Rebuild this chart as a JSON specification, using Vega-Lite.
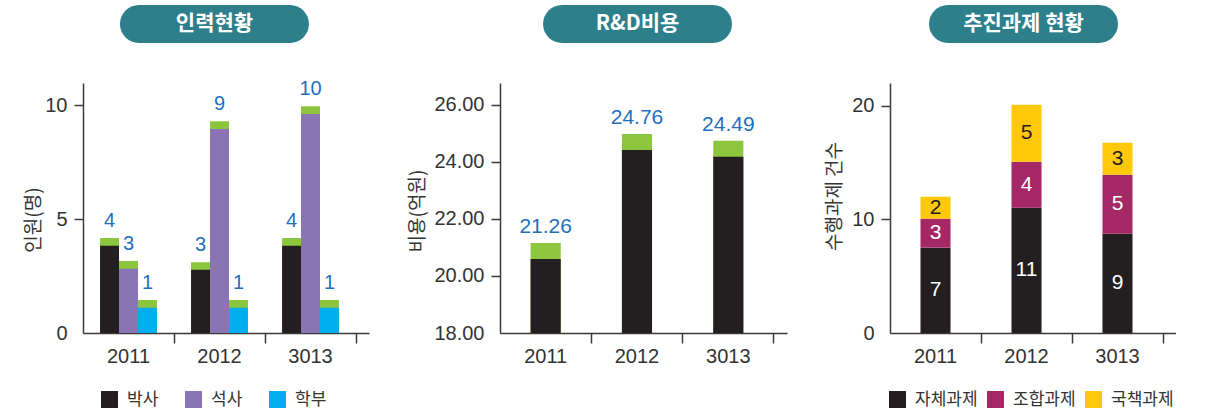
{
  "$schema": "https://vega.github.io/schema/vega-lite/v6.json",
  "background": "white",
  "padding": {"left": 24, "top": 5, "right": 0, "bottom": 0},
  "autosize": {"type": "pad"},
  "config": {
    "view": {"stroke": null},
    "font": "Noto Sans CJK KR",
    "axis": {
      "domainColor": "#3a3a3a", "domainWidth": 1.5,
      "tickColor": "#3a3a3a", "tickWidth": 1.5,
      "labelFont": "Liberation Sans",
      "labelColor": "#333333", "grid": false,
      "titleFont": "Noto Sans CJK KR", "titleFontWeight": "normal", "titleColor": "#333333", "titleFontSize": 19
    },
    "axisX": {"labelFontSize": 20, "tickSize": 10, "labelPadding": 3, "labelAngle": 0},
    "axisY": {"labelFontSize": 20, "tickSize": 9, "labelPadding": 7, "titleAngle": -90, "titleBaseline": "middle", "titleAlign": "center"},
    "legend": {"symbolType": "square", "symbolSize": 289, "symbolStrokeWidth": 0, "labelFontSize": 17, "labelFont": "Noto Sans CJK KR", "labelColor": "#333333", "labelOffset": 9, "padding": 0, "title": null}
  },
  "resolve": {"scale": {"color": "independent"}, "legend": {"color": "independent"}},
  "spacing": 38,
  "hconcat": [
    {
      "bounds": "flush", "spacing": 40,
      "vconcat": [
        {
          "width": 286, "height": 38,
          "data": {"values": [{"t": "인력현황"}]},
          "encoding": {"x": {"field": "t", "type": "nominal", "axis": null, "scale": {"paddingInner": 0, "paddingOuter": 0.2566, "align": 0.381}}},
          "layer": [
            {"mark": {"type": "rect", "color": "#2e7f8c", "cornerRadius": 19}},
            {"mark": {"type": "text", "color": "white", "fontSize": 21, "fontWeight": "bold", "font": "Noto Sans CJK KR", "baseline": "middle"},
             "encoding": {"text": {"field": "t"}}}
          ]
        },
        {
          "width": 286, "height": 250,
          "data": {"values": [
            {"year": "2011", "type": "박사", "v": 3.83, "top": 4.17, "label": "4"},
            {"year": "2011", "type": "석사", "v": 2.82, "top": 3.16, "label": "3"},
            {"year": "2011", "type": "학부", "v": 1.11, "top": 1.45, "label": "1"},
            {"year": "2012", "type": "박사", "v": 2.78, "top": 3.11, "label": "3"},
            {"year": "2012", "type": "석사", "v": 8.96, "top": 9.30, "label": "9"},
            {"year": "2012", "type": "학부", "v": 1.11, "top": 1.45, "label": "1"},
            {"year": "3013", "type": "박사", "v": 3.83, "top": 4.17, "label": "4"},
            {"year": "3013", "type": "석사", "v": 9.62, "top": 9.96, "label": "10"},
            {"year": "3013", "type": "학부", "v": 1.11, "top": 1.45, "label": "1"}
          ]},
          "encoding": {
            "x": {"field": "year", "type": "nominal", "sort": null, "title": null,
                  "scale": {"paddingInner": 0, "paddingOuter": 0.0714, "align": 0},
                  "axis": {"bandPosition": 1}},
            "xOffset": {"field": "type", "type": "nominal", "sort": ["박사", "석사", "학부"], "scale": {"paddingInner": 0, "paddingOuter": 0.9}}
          },
          "layer": [
            {
              "mark": {"type": "bar", "color": "#8cc63f"},
              "encoding": {"y": {"field": "top", "type": "quantitative", "stack": null, "title": "인원(명)",
                "scale": {"domain": [0, 10.98], "nice": false, "zero": true},
                "axis": {"values": [0, 5, 10], "titleX": -50, "titleY": 136.5,
                  "tickOpacity": {"condition": {"test": "datum.value === 0", "value": 0}, "value": 1}}}}
            },
            {
              "mark": {"type": "bar"},
              "encoding": {
                "y": {"field": "v", "type": "quantitative", "stack": null, "title": "인원(명)"},
                "color": {"field": "type", "type": "nominal",
                  "scale": {"domain": ["박사", "석사", "학부"], "range": ["#231f20", "#8b74b3", "#00aeef"]},
                  "legend": {"orient": "none", "legendX": 18, "legendY": 386, "direction": "horizontal", "columns": 3, "columnPadding": 26}}
              }
            },
            {
              "mark": {"type": "text", "color": "#1f6fbd", "fontSize": 20, "baseline": "alphabetic", "dy": -11, "font": "Liberation Sans"},
              "encoding": {
                "y": {"field": "top", "type": "quantitative", "stack": null, "title": "인원(명)"},
                "text": {"field": "label"}
              }
            }
          ]
        }
      ]
    },
    {
      "bounds": "flush", "spacing": 40,
      "vconcat": [
        {
          "width": 287, "height": 38,
          "data": {"values": [{"t": "R&D비용"}]},
          "encoding": {"x": {"field": "t", "type": "nominal", "axis": null, "scale": {"paddingInner": 0, "paddingOuter": 0.2593, "align": 0.439}}},
          "layer": [
            {"mark": {"type": "rect", "color": "#2e7f8c", "cornerRadius": 19}},
            {"mark": {"type": "text", "color": "white", "fontSize": 21, "fontWeight": "bold", "font": "Noto Sans CJK KR", "baseline": "middle"},
             "encoding": {"text": {"field": "t"}}}
          ]
        },
        {
          "width": 287, "height": 250,
          "data": {"values": [
            {"year": "2011", "v": 20.60, "top": 21.16, "label": "21.26"},
            {"year": "2012", "v": 24.42, "top": 24.98, "label": "24.76"},
            {"year": "3013", "v": 24.18, "top": 24.74, "label": "24.49"}
          ]},
          "encoding": {
            "x": {"field": "year", "type": "nominal", "sort": null, "title": null,
                  "scale": {"paddingInner": 0, "paddingOuter": 0.0714, "align": 0},
                  "axis": {"bandPosition": 1}}
          },
          "layer": [
            {
              "mark": {"type": "bar", "color": "#8cc63f", "width": {"band": 0.33}},
              "encoding": {
                "y": {"field": "top", "type": "quantitative", "title": "비용(억원)",
                  "scale": {"domain": [18, 26.77], "nice": false, "zero": false},
                  "axis": {"values": [18, 20, 22, 24, 26], "format": ".2f", "titleX": -83, "titleY": 127.5,
                    "tickOpacity": {"condition": {"test": "datum.value === 18", "value": 0}, "value": 1}}},
                "y2": {"datum": 18}
              }
            },
            {
              "mark": {"type": "bar", "color": "#231f20", "width": {"band": 0.33}},
              "encoding": {
                "y": {"field": "v", "type": "quantitative", "title": "비용(억원)"},
                "y2": {"datum": 18}
              }
            },
            {
              "mark": {"type": "text", "color": "#1f6fbd", "fontSize": 21, "baseline": "alphabetic", "dy": -10, "font": "Liberation Sans"},
              "encoding": {
                "y": {"field": "top", "type": "quantitative", "title": "비용(억원)"},
                "text": {"field": "label"}
              }
            }
          ]
        }
      ]
    },
    {
      "bounds": "flush", "spacing": 40,
      "vconcat": [
        {
          "width": 286, "height": 38,
          "data": {"values": [{"t": "추진과제 현황"}]},
          "encoding": {"x": {"field": "t", "type": "nominal", "axis": null, "scale": {"paddingInner": 0, "paddingOuter": 0.2566, "align": 0.402}}},
          "layer": [
            {"mark": {"type": "rect", "color": "#2e7f8c", "cornerRadius": 19}},
            {"mark": {"type": "text", "color": "white", "fontSize": 21, "fontWeight": "bold", "font": "Noto Sans CJK KR", "baseline": "middle"},
             "encoding": {"text": {"field": "t"}}}
          ]
        },
        {
          "width": 286, "height": 250,
          "data": {"values": [
            {"year": "2011", "kind": "자체과제", "ord": 1, "v": 7.51, "label": "7"},
            {"year": "2011", "kind": "조합과제", "ord": 2, "v": 2.55, "label": "3"},
            {"year": "2011", "kind": "국책과제", "ord": 3, "v": 1.93, "label": "2"},
            {"year": "2012", "kind": "자체과제", "ord": 1, "v": 11.03, "label": "11"},
            {"year": "2012", "kind": "조합과제", "ord": 2, "v": 4.04, "label": "4"},
            {"year": "2012", "kind": "국책과제", "ord": 3, "v": 5.02, "label": "5"},
            {"year": "3013", "kind": "자체과제", "ord": 1, "v": 8.74, "label": "9"},
            {"year": "3013", "kind": "조합과제", "ord": 2, "v": 5.19, "label": "5"},
            {"year": "3013", "kind": "국책과제", "ord": 3, "v": 2.82, "label": "3"}
          ]},
          "encoding": {
            "x": {"field": "year", "type": "nominal", "sort": null, "title": null,
                  "scale": {"paddingInner": 0, "paddingOuter": 0.0714, "align": 0},
                  "axis": {"bandPosition": 1}},
            "order": {"field": "ord", "type": "quantitative"}
          },
          "layer": [
            {
              "mark": {"type": "bar", "width": {"band": 0.33}},
              "encoding": {
                "y": {"field": "v", "type": "quantitative", "stack": "zero", "title": "수행과제 건수",
                  "scale": {"domain": [0, 22.0], "nice": false},
                  "axis": {"values": [0, 10, 20], "titleX": -56, "titleY": 113,
                    "tickOpacity": {"condition": {"test": "datum.value === 0", "value": 0}, "value": 1}}},
                "color": {"field": "kind", "type": "nominal",
                  "scale": {"domain": ["자체과제", "조합과제", "국책과제"], "range": ["#231f20", "#a52866", "#ffc80a"]},
                  "legend": {"orient": "none", "legendX": -1, "legendY": 386, "direction": "horizontal", "columns": 3, "columnPadding": 9}}
              }
            },
            {
              "mark": {"type": "text", "fontSize": 21, "baseline": "middle", "font": "Liberation Sans"},
              "encoding": {
                "y": {"field": "v", "type": "quantitative", "stack": "zero", "bandPosition": 0.5, "title": "수행과제 건수"},
                "detail": {"field": "kind"},
                "text": {"field": "label"},
                "color": {"condition": {"test": "datum.kind === '국책과제'", "value": "#231f20"}, "value": "white"}
              }
            }
          ]
        }
      ]
    }
  ]
}
